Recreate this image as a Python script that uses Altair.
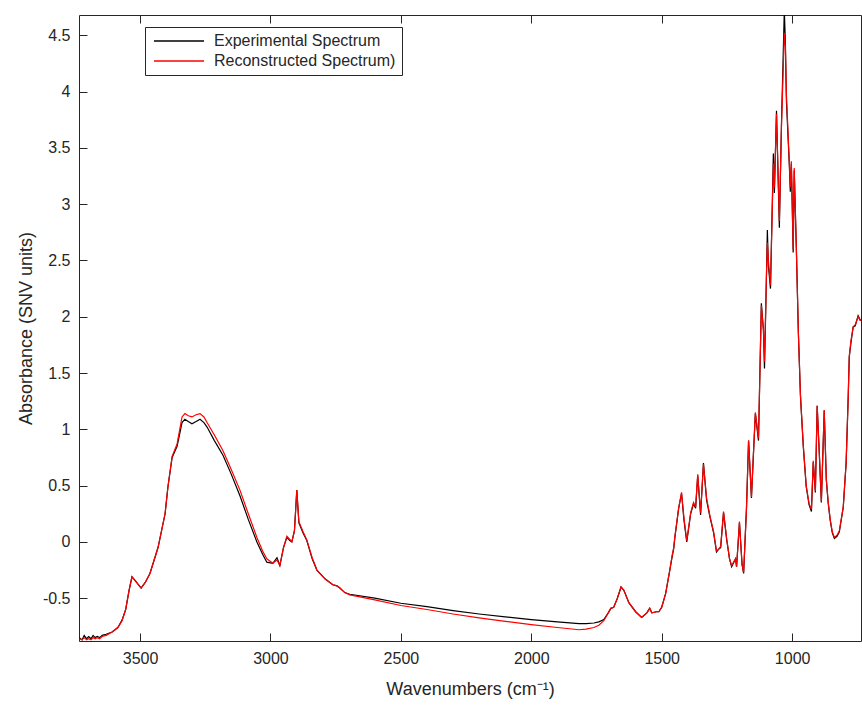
import altair as alt
import pandas as pd

# Wavenumbers (cm^-1)
wavenumber = [3733, 3722, 3714, 3705, 3697, 3688, 3680, 3672, 3664, 3655, 3645, 3630,
              3607, 3585, 3569, 3555, 3542, 3531, 3520, 3496, 3480, 3462, 3431, 3404,
              3393, 3377, 3358, 3339, 3328, 3315, 3301, 3285, 3270, 3255, 3243, 3215,
              3182, 3150, 3117, 3085, 3052, 3030, 3014, 2991, 2975, 2964, 2950, 2937,
              2925, 2918, 2908, 2899, 2891, 2875, 2861, 2840, 2822, 2790, 2761, 2745,
              2734, 2715, 2696, 2600, 2500, 2400, 2300, 2200, 2100, 2000, 1900, 1817,
              1790, 1760, 1741, 1722, 1705, 1695, 1684, 1670, 1656, 1645, 1626, 1600,
              1577, 1557, 1546, 1538, 1520, 1511, 1500, 1485, 1469, 1460, 1454, 1450,
              1435, 1424, 1415, 1404, 1389, 1378, 1370, 1362, 1351, 1340, 1328, 1315,
              1301, 1290, 1280, 1274, 1263, 1251, 1240, 1232, 1217, 1213, 1202, 1192,
              1186, 1175, 1167, 1156, 1148, 1141, 1129, 1118, 1110, 1106, 1099, 1095,
              1091, 1083, 1072, 1068, 1060, 1049, 1041, 1030, 1026, 1022, 1011, 1007,
              1003, 996, 992, 984, 976, 968, 957, 946, 935, 926, 919, 911,
              904, 896, 888, 877, 869, 862, 854, 846, 838, 828, 819, 804,
              793, 785, 781, 775, 766, 758, 747, 739, 730]

experimental = [-0.85, -0.87, -0.83, -0.86, -0.84, -0.86, -0.83, -0.85, -0.84, -0.85, -0.83, -0.82,
                -0.80, -0.76, -0.695, -0.60, -0.43, -0.31, -0.34, -0.41, -0.36, -0.28, -0.05, 0.25,
                0.49, 0.75, 0.85, 1.06, 1.09, 1.07, 1.05, 1.07, 1.09, 1.06, 1.02, 0.90,
                0.77, 0.60, 0.41, 0.20, 0.00, -0.11, -0.18, -0.19, -0.14, -0.21, -0.05, 0.04,
                0.01, 0.00, 0.10, 0.46, 0.17, 0.08, 0.015, -0.15, -0.25, -0.33, -0.38, -0.39,
                -0.41, -0.45, -0.465, -0.50, -0.545, -0.575, -0.61, -0.64, -0.665, -0.69, -0.71, -0.725,
                -0.725, -0.72, -0.71, -0.69, -0.63, -0.59, -0.58, -0.50, -0.40, -0.43, -0.54, -0.62,
                -0.67, -0.63, -0.59, -0.63, -0.62, -0.62, -0.58, -0.46, -0.25, -0.13, -0.06, 0.03,
                0.30, 0.43, 0.20, 0.00, 0.25, 0.34, 0.30, 0.59, 0.24, 0.70, 0.37, 0.22,
                0.08, -0.09, -0.06, -0.05, 0.26, 0.02, -0.15, -0.22, -0.15, -0.22, 0.17, -0.20,
                -0.28, 0.30, 0.90, 0.39, 0.80, 1.14, 0.90, 2.12, 1.88, 1.54, 2.30, 2.77,
                2.45, 2.25, 3.45, 3.10, 3.83, 2.79, 3.70, 4.72, 4.45, 3.92, 3.36, 3.11,
                3.36, 2.57, 3.30, 2.62, 1.85, 1.29, 0.84, 0.49, 0.33, 0.27, 0.71, 0.44,
                1.21, 0.79, 0.35, 1.17, 0.55, 0.35, 0.19, 0.08, 0.03, 0.05, 0.09, 0.31,
                0.70, 1.29, 1.64, 1.76, 1.91, 1.92, 2.01, 1.97, 1.98]

reconstructed = [-0.86, -0.87, -0.85, -0.87, -0.86, -0.87, -0.85, -0.86, -0.85, -0.86, -0.84, -0.83,
                 -0.80, -0.76, -0.70, -0.60, -0.43, -0.31, -0.34, -0.41, -0.36, -0.28, -0.05, 0.25,
                 0.49, 0.76, 0.87, 1.11, 1.14, 1.12, 1.11, 1.13, 1.14, 1.11, 1.06, 0.95,
                 0.81, 0.64, 0.46, 0.25, 0.04, -0.08, -0.15, -0.19, -0.16, -0.21, -0.05, 0.05,
                 0.02, 0.00, 0.10, 0.46, 0.18, 0.09, 0.02, -0.14, -0.25, -0.33, -0.38, -0.39,
                 -0.41, -0.45, -0.47, -0.515, -0.565, -0.60, -0.64, -0.675, -0.705, -0.735, -0.76, -0.78,
                 -0.775, -0.76, -0.74, -0.70, -0.63, -0.59, -0.58, -0.50, -0.40, -0.43, -0.54, -0.62,
                 -0.67, -0.63, -0.59, -0.63, -0.62, -0.62, -0.58, -0.46, -0.25, -0.12, -0.05, 0.04,
                 0.30, 0.44, 0.22, 0.01, 0.26, 0.35, 0.31, 0.60, 0.26, 0.69, 0.39, 0.23,
                 0.09, -0.08, -0.06, -0.04, 0.27, 0.03, -0.15, -0.21, -0.15, -0.22, 0.18, -0.20,
                 -0.27, 0.30, 0.90, 0.40, 0.80, 1.15, 0.92, 2.10, 1.88, 1.60, 2.32, 2.66,
                 2.50, 2.28, 3.36, 3.15, 3.80, 2.85, 3.68, 4.52, 4.40, 3.98, 3.38, 3.15,
                 3.38, 2.60, 3.32, 2.62, 1.85, 1.30, 0.85, 0.50, 0.34, 0.29, 0.72, 0.45,
                 1.21, 0.80, 0.36, 1.17, 0.56, 0.36, 0.20, 0.09, 0.04, 0.06, 0.10, 0.31,
                 0.71, 1.29, 1.65, 1.78, 1.91, 1.93, 2.00, 1.97, 1.98]

series_names = ["Experimental Spectrum", "Reconstructed Spectrum)"]
series_colors = ["#000000", "#ff0000"]
x_ticks = [3500, 3000, 2500, 2000, 1500, 1000]
y_ticks = [-0.5, 0, 0.5, 1, 1.5, 2, 2.5, 3, 3.5, 4, 4.5]

n = len(wavenumber)
df = pd.DataFrame({
    "wn": wavenumber * 2,
    "absorbance": experimental + reconstructed,
    "series": [series_names[0]] * n + [series_names[1]] * n,
    "order": list(range(n)) * 2,
})

FONT = "Liberation Sans"
TXT = "#262626"

xs = alt.Scale(domain=[736, 3734], reverse=True, nice=False, zero=False)
ys = alt.Scale(domain=[-0.88, 4.68], nice=False, zero=False)

color = alt.Color(
    "series:N",
    scale=alt.Scale(domain=series_names, range=series_colors),
    legend=alt.Legend(
        title="",
        orient="none",
        legendX=66,
        legendY=12,
        direction="vertical",
        symbolType="M-1,0H9",
        symbolSize=100,
        symbolStrokeWidth=1.3,
        labelOffset=47,
        labelFont=FONT,
        labelFontSize=16,
        labelColor=TXT,
        labelLimit=0,
        strokeColor=TXT,
        fillColor="white",
        padding=6,
        rowPadding=4,
        cornerRadius=0,
    ),
)

base = alt.Chart(df)

# Layer 1: black line, carries the tick labels and axis titles
lab_x = alt.Axis(orient="bottom", values=x_ticks, domain=False, ticks=False, tickSize=0,
                 grid=False, labelPadding=9, labelFont=FONT, labelFontSize=16, labelColor=TXT,
                 title="Wavenumbers (cm⁻¹)", titleFont=FONT, titleFontSize=18,
                 titleFontWeight="normal", titleColor=TXT, titlePadding=14, format="d")
lab_y = alt.Axis(orient="left", values=y_ticks, domain=False, ticks=False, tickSize=0,
                 grid=False, labelPadding=9, labelFont=FONT, labelFontSize=16, labelColor=TXT,
                 labelExpr="datum.value + ''",
                 title="Absorbance (SNV units)", titleFont=FONT, titleFontSize=18,
                 titleFontWeight="normal", titleColor=TXT, titlePadding=7)

exp_layer = base.transform_filter(alt.datum.series == series_names[0]).mark_line(
    strokeWidth=1.2, clip=True
).encode(
    x=alt.X("wn:Q", scale=xs, axis=lab_x),
    y=alt.Y("absorbance:Q", scale=ys, axis=lab_y),
    color=color,
    order="order:Q",
)

# Layer 2: red line, carries the inward ticks at bottom and left
tick_bottom = alt.Axis(orient="bottom", values=x_ticks, domain=False, labels=False, ticks=True,
                       tickSize=8, tickColor=TXT, tickWidth=1, grid=False, offset=-8, title="")
tick_left = alt.Axis(orient="left", values=y_ticks, domain=False, labels=False, ticks=True,
                     tickSize=8, tickColor=TXT, tickWidth=1, grid=False, offset=-8, title="")

rec_layer = base.transform_filter(alt.datum.series == series_names[1]).mark_line(
    strokeWidth=1.2, clip=True
).encode(
    x=alt.X("wn:Q", scale=xs, axis=tick_bottom),
    y=alt.Y("absorbance:Q", scale=ys, axis=tick_left),
    color=color,
    order="order:Q",
)

# Layer 3: invisible copy, carries the inward ticks on top
tick_top = alt.Axis(orient="top", values=x_ticks, domain=False, labels=False, ticks=True,
                    tickSize=8, tickColor=TXT, tickWidth=1, grid=False, offset=-8, title="")
top_layer = base.transform_filter(alt.datum.series == series_names[1]).mark_line(
    opacity=0, clip=True
).encode(
    x=alt.X("wn:Q", scale=xs, axis=tick_top),
    y=alt.Y("absorbance:Q", scale=ys, axis=None),
    order="order:Q",
)

chart = alt.layer(exp_layer, rec_layer, top_layer).resolve_axis(
    x="independent", y="independent"
).properties(
    width=782,
    height=626,
    autosize=alt.AutoSizeParams(type="none"),
    padding={"left": 79, "top": 15, "right": 1, "bottom": 65},
    background="white",
).configure_view(
    stroke=TXT, strokeWidth=1
)

chart.save("out.html", embed_options={"renderer": "svg", "actions": False})
